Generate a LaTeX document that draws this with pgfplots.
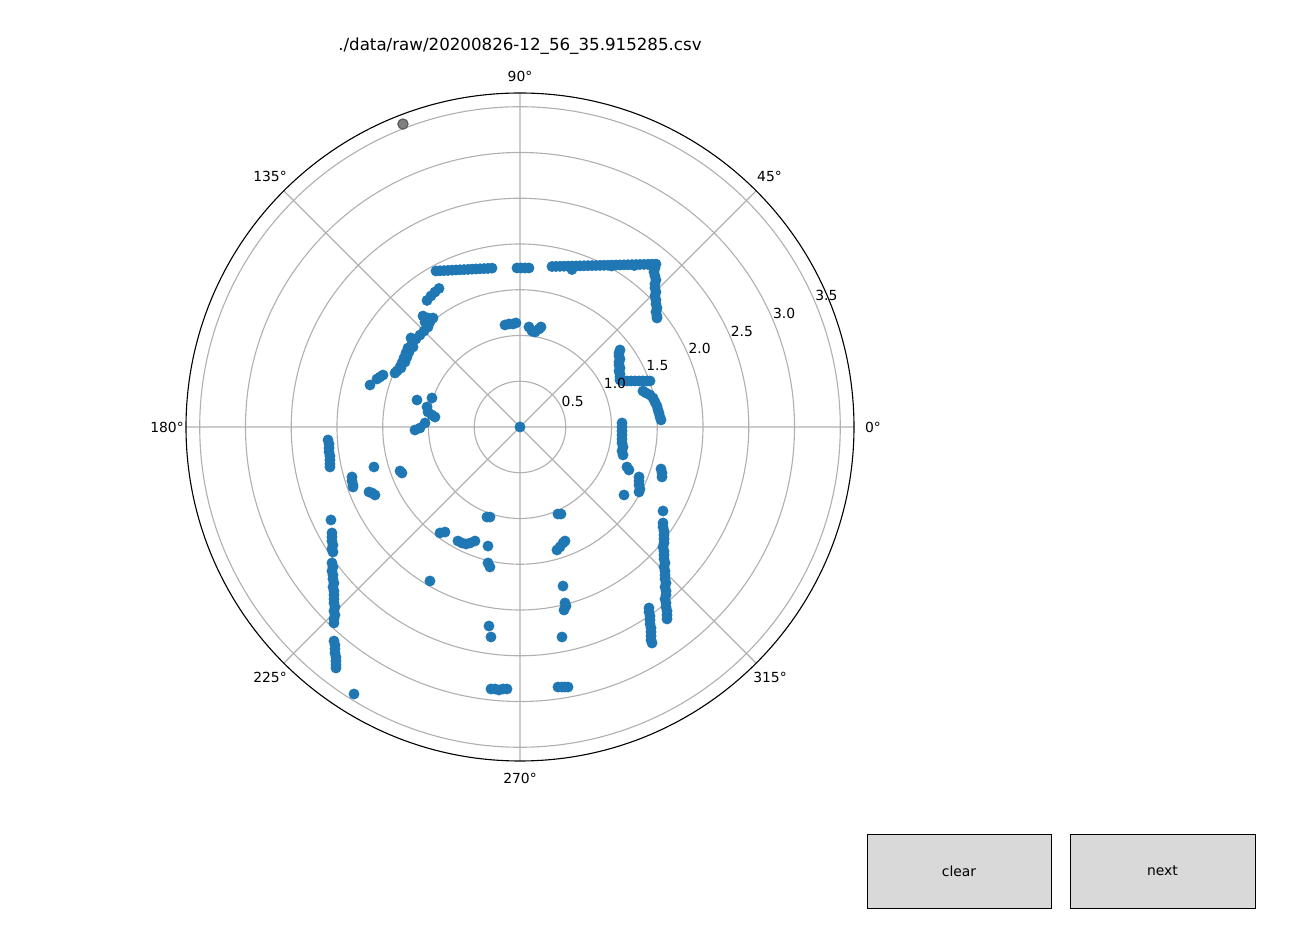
\documentclass[border=0pt]{standalone}
\usepackage{pgfplots}
\pgfplotsset{compat=1.18}
\usepgfplotslibrary{polar}
\usepackage{fontspec}
\setmainfont{DejaVu Sans}
\definecolor{mplblue}{HTML}{1F77B4}
\definecolor{gridgray}{HTML}{B0B0B0}
\definecolor{btngray}{HTML}{D9D9D9}
\begin{document}
\begin{tikzpicture}
\path (0pt,0pt) rectangle (932.4pt,673.92pt);
\begin{polaraxis}[
  at={(374.4pt,366.48pt)}, anchor=center,
  scale only axis, width=480.96pt, height=480.96pt,
  xmin=0, xmax=360, ymin=0, ymax=3.65,
  xtick={0,45,...,315}, ytick={0.5,1,...,3.5},
  xticklabels={}, yticklabels={},
  major tick length=0pt,
  xmajorgrids, ymajorgrids,
  major grid style={color=gridgray, line width=0.8pt},
  axis line style={black, line width=0.8pt},
  y axis line style={draw=none},
  clip=false,
]
\addplot[only marks, data cs=cart, mark=*, mark size=3.7pt,
  mark options={fill=mplblue, draw=mplblue, line width=0.4pt}] coordinates {
% top wall left
(-0.918,1.705) (-0.874,1.707) (-0.831,1.709) (-0.787,1.711) (-0.743,1.714)
(-0.699,1.716) (-0.656,1.718) (-0.612,1.720) (-0.568,1.722) (-0.525,1.725)
(-0.481,1.727) (-0.437,1.729) (-0.393,1.731) (-0.350,1.733) (-0.306,1.736)
% top wall middle
(-0.033,1.738) (0.011,1.738) (0.055,1.738) (0.098,1.738)
% top wall right
(0.350,1.754) (0.393,1.755) (0.437,1.756) (0.481,1.757) (0.525,1.758)
(0.568,1.759) (0.612,1.760) (0.656,1.761) (0.699,1.762) (0.743,1.763)
(0.787,1.764) (0.831,1.765) (0.874,1.766) (0.918,1.767) (0.962,1.768)
(1.005,1.769) (1.049,1.770) (1.093,1.771) (1.137,1.772) (1.180,1.773)
(1.224,1.774) (1.268,1.775) (1.311,1.776) (1.355,1.777) (1.399,1.778)
(1.443,1.779) (1.486,1.780) (0.568,1.721) (1.000,1.760) (1.250,1.765) (1.420,1.770)
% right vertical wall (top)
(1.475,1.738) (1.464,1.694) (1.475,1.650) (1.486,1.607) (1.475,1.563)
(1.475,1.519) (1.486,1.475) (1.475,1.432) (1.486,1.388) (1.486,1.344)
(1.497,1.301) (1.486,1.257) (1.497,1.213) (1.497,1.191)
% upper left diagonal
(-0.885,1.514) (-0.929,1.475) (-0.973,1.432) (-1.016,1.383)
(-1.060,1.213) (-1.005,1.191) (-0.951,1.191) (-1.038,1.148) (-0.984,1.148)
(-1.005,1.093) (-1.049,1.049) (-1.093,1.005) (-1.137,0.962) (-1.191,0.973)
(-1.180,0.907) (-1.224,0.863) (-1.246,0.809) (-1.268,0.754) (-1.290,0.699)
(-1.311,0.656) (-1.344,0.612) (-1.366,0.590) (-1.497,0.568) (-1.530,0.546)
(-1.563,0.525) (-1.639,0.459)
(-1.169,0.874) (-1.213,0.820) (-1.235,0.765) (-1.257,0.710) (-1.301,0.645)
% left cluster
(-1.126,0.295) (-0.962,0.317) (-1.016,0.219) (-1.005,0.164) (-0.962,0.131)
(-0.929,0.109) (-1.038,0.044) (-1.093,-0.011) (-1.148,-0.033)
% inner top
(-0.164,1.115) (-0.120,1.126) (-0.077,1.126) (-0.044,1.137)
(0.098,1.093) (0.131,1.049) (0.164,1.038) (0.208,1.071) (0.230,1.093)
% right inner L
(1.093,0.842) (1.082,0.809) (1.082,0.776) (1.093,0.743) (1.082,0.710)
(1.082,0.678) (1.093,0.645) (1.082,0.612) (1.093,0.579) (1.093,0.546) (1.093,0.514)
(1.126,0.503) (1.169,0.503) (1.213,0.503) (1.257,0.503) (1.301,0.503)
(1.344,0.503) (1.388,0.503) (1.421,0.503)
(1.344,0.393) (1.377,0.372) (1.421,0.350) (1.454,0.317) (1.475,0.273)
(1.497,0.230) (1.508,0.186) (1.519,0.153) (1.530,0.109) (1.541,0.077)
% right middle
(1.115,0.044) (1.115,0.000) (1.115,-0.044) (1.115,-0.087) (1.115,-0.131)
(1.115,-0.175) (1.126,-0.219) (1.115,-0.262) (1.126,-0.306)
(1.169,-0.437) (1.191,-0.470)
(1.301,-0.546) (1.301,-0.590) (1.301,-0.634) (1.311,-0.678) (1.301,-0.710)
(1.137,-0.743)
(1.541,-0.459) (1.552,-0.503) (1.552,-0.546)
% right wall (lower)
(1.563,-0.918) (1.563,-1.049) (1.563,-1.093) (1.574,-1.137) (1.574,-1.180)
(1.574,-1.224) (1.574,-1.268) (1.563,-1.311) (1.574,-1.355) (1.574,-1.399)
(1.574,-1.443) (1.585,-1.486) (1.574,-1.530) (1.585,-1.574) (1.585,-1.617)
(1.585,-1.661) (1.596,-1.705) (1.585,-1.749) (1.596,-1.792) (1.596,-1.836)
(1.585,-1.880) (1.596,-1.923) (1.596,-1.967) (1.607,-2.011) (1.607,-2.055)
(1.607,-2.098)
(1.410,-1.978) (1.410,-2.022) (1.421,-2.066) (1.421,-2.109) (1.421,-2.153)
(1.432,-2.197) (1.432,-2.240) (1.432,-2.284) (1.432,-2.328) (1.443,-2.361)
% left wall upper
(-2.098,-0.142) (-2.087,-0.186) (-2.087,-0.230) (-2.087,-0.273) (-2.077,-0.317)
(-2.077,-0.361) (-2.077,-0.404) (-2.077,-0.437)
(-1.836,-0.546) (-1.836,-0.590) (-1.825,-0.634) (-1.825,-0.656)
(-1.596,-0.437) (-1.311,-0.481) (-1.290,-0.503)
(-1.650,-0.710) (-1.617,-0.721) (-1.585,-0.743)
% left wall lower
(-2.066,-1.016) (-2.055,-1.158) (-2.055,-1.202) (-2.055,-1.246) (-2.044,-1.290)
(-2.055,-1.333) (-2.044,-1.366)
(-2.055,-1.486) (-2.044,-1.530) (-2.055,-1.574) (-2.044,-1.617) (-2.044,-1.661)
(-2.033,-1.705) (-2.044,-1.749) (-2.033,-1.792) (-2.033,-1.836) (-2.033,-1.880)
(-2.033,-1.923) (-2.022,-1.967) (-2.033,-2.011) (-2.022,-2.055) (-2.033,-2.098)
(-2.033,-2.142)
(-2.033,-2.339) (-2.022,-2.383) (-2.022,-2.426) (-2.022,-2.470) (-2.011,-2.514)
(-2.011,-2.557) (-2.011,-2.601) (-2.011,-2.634)
(-1.814,-2.918)
% bottom left inner
(-0.874,-1.158) (-0.820,-1.148) (-0.678,-1.246) (-0.634,-1.268) (-0.590,-1.279)
(-0.546,-1.268) (-0.492,-1.246) (-0.350,-1.301) (-0.350,-1.486) (-0.328,-1.530)
(-0.984,-1.683) (-0.328,-0.984) (-0.361,-0.984)
% bottom
(-0.339,-2.175) (-0.317,-2.295)
(-0.317,-2.863) (-0.273,-2.863) (-0.230,-2.874) (-0.186,-2.863) (-0.142,-2.863)
% bottom right inner
(0.415,-0.951) (0.448,-0.951)
(0.404,-1.344) (0.437,-1.311) (0.470,-1.268) (0.492,-1.246)
(0.470,-1.738) (0.492,-1.923) (0.503,-1.956) (0.481,-2.000) (0.459,-2.295)
(0.415,-2.842) (0.459,-2.842) (0.492,-2.842) (0.525,-2.842)
};
\addplot[only marks, mark=*, mark size=3.7pt,
  mark options={fill=mplblue, draw=mplblue, line width=0.4pt}] coordinates {(0,0)};
\addplot[only marks, data cs=cart, mark=*, mark size=3.7pt,
  mark options={fill=black!50, draw=black!65, line width=0.8pt}] coordinates {(-1.279,3.311)};
\end{polaraxis}
% angle labels
\begin{scope}[every node/.style={font=\fontsize{10}{12}\selectfont, inner sep=0pt}]
\node at (374.4pt,619.2pt) {90°};
\node at (374.4pt,113.76pt) {270°};
\node at (628.56pt,366.48pt) {0°};
\node at (120.24pt,366.48pt) {180°};
\node at (554.04pt,547.2pt) {45°};
\node at (194.4pt,547.2pt) {135°};
\node at (194.4pt,186.48pt) {225°};
\node at (554.4pt,186.48pt) {315°};
% radial labels
\node at (412.4pt,385.2pt) {0.5};
\node at (442.8pt,397.8pt) {1.0};
\node at (473.3pt,410.4pt) {1.5};
\node at (503.7pt,423.0pt) {2.0};
\node at (534.1pt,435.6pt) {2.5};
\node at (564.6pt,448.2pt) {3.0};
\node at (595.0pt,460.9pt) {3.5};
\end{scope}
\node[font=\fontsize{12}{14}\selectfont, inner sep=0pt] at (374.4pt,640.5pt) {./data/raw/20200826-12\_56\_35.915285.csv};
% buttons
\begin{axis}[at={(624.24pt,20.16pt)}, anchor=south west, scale only axis,
  width=132.48pt, height=53.28pt, xmin=0, xmax=1, ymin=0, ymax=1,
  xtick=\empty, ytick=\empty,
  axis background/.style={fill=btngray},
  axis line style={black, line width=0.6pt}]
\node[font=\fontsize{10}{12}\selectfont] at (axis cs:0.5,0.5) {clear};
\end{axis}
\begin{axis}[at={(770.4pt,20.16pt)}, anchor=south west, scale only axis,
  width=133.2pt, height=53.28pt, xmin=0, xmax=1, ymin=0, ymax=1,
  xtick=\empty, ytick=\empty,
  axis background/.style={fill=btngray},
  axis line style={black, line width=0.6pt}]
\node[font=\fontsize{10}{12}\selectfont] at (axis cs:0.5,0.5) {next};
\end{axis}
\end{tikzpicture}
\end{document}
